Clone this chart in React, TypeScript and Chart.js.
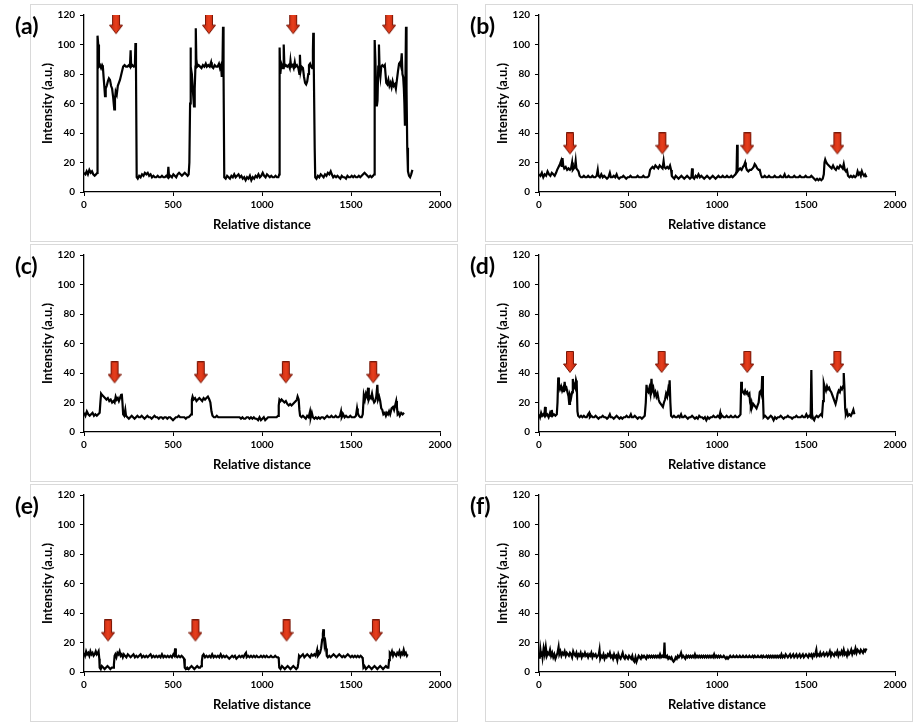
import React, { useEffect, useRef } from 'react';
import { Chart, registerables } from 'chart.js';
Chart.register(...registerables);

const X_MIN = 0, X_MAX = 2000, X_STEP = 500;
const Y_MIN = 0, Y_MAX = 120, Y_STEP = 20;
const xTitle = 'Relative distance';
const yTitle = 'Intensity (a.u.)';
const panelLabels = ['(a)', '(b)', '(c)', '(d)', '(e)', '(f)'];

const profileA: number[][] = [
[0,13],[8,12],[15,14],[22,12],[30,15],[38,13],[45,14],[52,12],[60,11],[68,12],[74,13],
[76,106],[80,100],[84,85],[90,86],[96,84],[102,86],[106,85],[110,78],[114,72],[118,65],[122,70],[128,72],[134,75],[140,77],[146,76],[152,72],[158,70],[164,64],[170,56],[174,63],[178,68],[184,66],[190,72],[196,74],[202,76],[208,79],[214,82],[220,85],[228,86],[236,85],[244,85],[252,86],[258,85],[262,96],[265,85],[272,86],[280,85],[286,86],[289,101],[292,85],[296,10],
[302,9],[310,11],[318,10],[326,12],[334,11],[342,13],[350,12],[358,13],[366,11],[374,12],[382,10],[390,11],[398,10],[406,10],[414,11],[422,10],[430,10],[438,11],[446,10],[454,10],[462,11],[470,10],[474,17],[478,10],[486,11],[494,10],[502,12],[510,11],[518,10],[526,12],[534,13],[542,12],[550,11],[558,12],[566,13],[574,12],[582,11],[588,12],
[592,20],[596,60],[598,98],[601,85],[606,80],[612,68],[618,58],[622,70],[626,85],[628,111],[631,90],[636,85],[644,86],[652,85],[660,84],[668,86],[676,85],[684,87],[690,85],[698,86],[706,85],[714,88],[718,85],[726,84],[734,86],[742,85],[750,85],[758,87],[764,84],[770,86],[774,78],[778,86],[781,112],[784,80],[788,10],
[796,9],[804,11],[812,10],[820,9],[828,11],[836,10],[844,12],[852,10],[860,11],[868,12],[876,10],[884,11],[892,9],[900,10],[908,8],[916,10],[924,9],[932,11],[940,8],[948,10],[956,9],[964,11],[972,10],[980,12],[988,10],[996,11],[1004,13],[1012,11],[1020,10],[1028,12],[1036,11],[1044,10],[1052,11],[1060,10],[1068,10],[1076,11],[1084,10],[1092,10],[1097,12],
[1099,98],[1103,80],[1107,85],[1112,86],[1118,84],[1122,100],[1126,85],[1134,86],[1142,85],[1150,86],[1156,84],[1160,89],[1164,85],[1172,86],[1178,84],[1184,88],[1188,85],[1196,86],[1204,84],[1210,80],[1213,93],[1217,82],[1222,85],[1230,84],[1236,78],[1242,74],[1248,73],[1254,75],[1260,80],[1264,86],[1270,87],[1276,85],[1282,84],[1286,96],[1288,108],[1291,85],[1296,30],[1299,10],
[1306,9],[1314,11],[1322,10],[1330,12],[1338,11],[1346,10],[1354,12],[1362,11],[1370,13],[1378,12],[1386,14],[1392,12],[1400,10],[1408,11],[1416,10],[1424,11],[1432,10],[1440,9],[1448,11],[1456,10],[1464,10],[1472,9],[1480,11],[1488,10],[1496,10],[1504,11],[1512,10],[1520,11],[1528,10],[1536,10],[1544,11],[1552,10],[1560,11],[1568,12],[1576,13],[1584,12],[1592,11],[1600,10],[1608,11],[1616,10],[1624,11],[1630,12],
[1633,103],[1637,90],[1641,70],[1645,58],[1649,62],[1653,85],[1657,100],[1661,82],[1665,78],[1670,85],[1676,86],[1684,85],[1690,86],[1694,80],[1698,74],[1704,73],[1710,76],[1716,72],[1722,74],[1728,71],[1734,75],[1740,72],[1746,73],[1752,70],[1758,76],[1764,82],[1770,87],[1776,88],[1780,86],[1785,94],[1789,80],[1793,78],[1797,70],[1800,60],[1803,45],[1806,80],[1809,112],[1812,70],[1816,30],[1820,14],[1826,11],[1832,10],[1838,12],[1845,15]
];

const profileB: number[][] = [
[0,12],[8,11],[16,13],[24,10],[32,12],[40,11],[48,14],[56,12],[64,11],[72,13],[80,12],[88,11],[96,13],[102,15],[110,17],[118,19],[124,21],[128,17],[132,23],[136,18],[142,16],[150,17],[158,15],[166,16],[174,15],[180,16],[186,20],[190,15],[196,16],[202,17],[206,21],[210,16],[216,15],[222,14],[228,11],[236,10],[244,10],[252,11],[260,10],[268,10],[276,11],[284,10],[292,10],[300,11],[308,10],[316,10],[324,11],[330,15],[334,11],[342,10],[350,12],[358,10],[366,11],[374,10],[382,9],[390,10],[398,13],[404,10],[412,10],[420,11],[428,10],[436,12],[442,10],[450,9],[458,10],[466,10],[474,11],[482,10],[490,9],[498,10],[506,10],[514,11],[522,10],[530,10],[538,10],[546,10],[554,11],[562,10],[570,10],[578,10],[586,11],[594,10],[602,10],[610,10],[618,11],[624,15],[630,16],[638,17],[646,16],[654,18],[662,17],[670,16],[678,18],[686,17],[694,16],[700,21],[704,17],[712,16],[720,17],[728,16],[736,18],[742,15],[746,11],[752,10],[760,9],[768,11],[776,10],[784,9],[792,10],[800,11],[808,10],[816,9],[824,10],[832,11],[840,10],[848,9],[856,10],[860,16],[864,10],[872,9],[880,11],[888,10],[896,12],[904,10],[912,11],[920,10],[928,9],[936,10],[944,11],[952,10],[960,9],[968,10],[976,11],[984,10],[992,9],[1000,10],[1008,11],[1016,10],[1024,10],[1032,11],[1040,10],[1048,10],[1056,11],[1064,10],[1072,10],[1080,11],[1088,10],[1096,11],[1104,12],[1110,14],[1113,32],[1116,14],[1122,15],[1130,16],[1138,15],[1146,17],[1152,18],[1158,20],[1162,17],[1168,15],[1176,14],[1184,15],[1192,15],[1200,16],[1206,17],[1212,19],[1218,18],[1226,16],[1234,15],[1240,15],[1246,12],[1252,10],[1260,10],[1268,11],[1276,10],[1284,10],[1292,11],[1300,10],[1308,10],[1316,10],[1324,11],[1332,10],[1340,10],[1348,10],[1356,11],[1364,10],[1372,10],[1380,12],[1386,10],[1394,10],[1402,11],[1410,10],[1418,10],[1426,10],[1434,11],[1442,10],[1450,10],[1458,10],[1466,11],[1474,10],[1482,10],[1490,10],[1498,11],[1506,10],[1514,10],[1522,10],[1530,11],[1538,10],[1546,9],[1554,8],[1562,9],[1570,8],[1578,9],[1586,8],[1594,9],[1600,12],[1604,20],[1608,22],[1614,20],[1620,19],[1628,18],[1636,17],[1644,16],[1652,18],[1660,16],[1668,15],[1676,17],[1684,16],[1692,18],[1700,17],[1706,16],[1712,19],[1718,15],[1724,14],[1730,15],[1736,11],[1744,10],[1752,11],[1760,10],[1768,11],[1776,10],[1784,11],[1790,14],[1796,12],[1802,13],[1808,11],[1814,14],[1820,12],[1826,11],[1832,12],[1840,10]
];

const profileC: number[][] = [
[0,13],[8,11],[16,14],[24,12],[32,11],[40,12],[48,13],[56,11],[64,12],[72,11],[80,12],[88,13],[92,20],[96,26],[102,25],[110,24],[118,23],[126,22],[134,23],[142,21],[150,22],[158,20],[166,21],[172,20],[178,24],[184,22],[190,23],[196,21],[202,23],[208,25],[212,26],[216,20],[220,12],[226,11],[232,15],[236,11],[244,10],[252,9],[260,10],[268,11],[276,10],[284,9],[292,10],[300,11],[308,10],[316,10],[324,11],[332,10],[340,9],[348,10],[356,11],[364,10],[372,10],[380,9],[388,10],[396,11],[404,10],[412,10],[420,9],[428,10],[436,10],[444,9],[452,10],[460,10],[468,9],[476,10],[484,10],[492,9],[500,8],[508,9],[516,10],[524,10],[532,11],[540,10],[548,10],[556,10],[564,10],[572,9],[580,10],[588,10],[596,11],[602,12],[606,22],[610,24],[616,22],[624,23],[632,21],[640,22],[648,23],[656,22],[664,21],[672,23],[680,22],[688,23],[696,24],[704,22],[710,20],[716,14],[722,11],[730,10],[738,10],[746,11],[754,10],[762,10],[770,10],[778,10],[786,10],[794,10],[802,10],[810,10],[818,10],[826,10],[834,10],[842,10],[850,10],[858,10],[866,10],[874,10],[882,9],[890,10],[898,9],[906,9],[914,10],[922,10],[930,9],[938,10],[946,9],[954,10],[962,9],[970,9],[978,8],[986,10],[994,8],[1002,9],[1010,10],[1018,8],[1026,9],[1034,10],[1042,10],[1050,10],[1058,10],[1066,10],[1074,10],[1082,10],[1090,11],[1094,18],[1098,22],[1104,21],[1110,22],[1118,21],[1126,20],[1134,21],[1142,19],[1150,18],[1158,19],[1166,18],[1174,19],[1182,20],[1190,21],[1196,22],[1200,24],[1206,22],[1210,15],[1214,11],[1222,10],[1230,11],[1238,10],[1246,9],[1254,11],[1262,10],[1270,14],[1274,10],[1280,13],[1286,10],[1294,9],[1302,10],[1310,9],[1318,10],[1326,9],[1334,10],[1342,10],[1350,9],[1358,10],[1366,11],[1374,10],[1382,10],[1390,11],[1398,10],[1406,10],[1414,11],[1422,10],[1430,10],[1438,11],[1444,14],[1448,10],[1456,12],[1464,10],[1472,11],[1480,10],[1488,10],[1496,11],[1504,10],[1512,10],[1520,10],[1528,11],[1534,16],[1538,13],[1544,11],[1552,10],[1560,10],[1566,12],[1572,25],[1578,22],[1584,26],[1590,24],[1596,30],[1600,22],[1606,24],[1612,23],[1618,26],[1624,22],[1630,20],[1636,21],[1642,24],[1648,32],[1652,22],[1658,24],[1664,21],[1670,16],[1676,15],[1682,12],[1690,13],[1696,11],[1702,13],[1708,12],[1714,14],[1720,12],[1728,16],[1736,17],[1742,15],[1748,18],[1754,21],[1758,17],[1762,12],[1768,13],[1774,11],[1782,13],[1790,12],[1798,13]
];

const profileD: number[][] = [
[0,12],[6,10],[12,13],[18,11],[24,12],[30,11],[34,17],[38,11],[46,12],[54,10],[62,13],[68,11],[72,15],[76,11],[84,12],[92,11],[100,12],[104,20],[108,37],[112,32],[118,29],[124,31],[130,28],[136,30],[140,27],[144,34],[148,29],[154,30],[160,27],[166,24],[170,19],[174,25],[180,23],[186,27],[190,36],[194,30],[198,32],[204,30],[208,35],[212,33],[216,14],[220,11],[228,10],[236,11],[244,10],[252,11],[260,10],[268,10],[276,12],[282,13],[286,10],[294,11],[302,10],[310,10],[318,11],[326,10],[334,9],[342,10],[350,10],[358,11],[366,10],[374,10],[382,9],[390,10],[398,12],[404,10],[412,10],[420,9],[428,10],[436,11],[444,10],[452,9],[460,10],[468,9],[476,10],[484,10],[492,11],[500,10],[508,10],[516,12],[522,10],[530,10],[538,11],[546,10],[554,9],[562,10],[570,10],[578,9],[586,10],[594,11],[600,20],[604,32],[608,28],[614,27],[620,30],[626,26],[632,36],[636,28],[642,30],[648,25],[654,27],[660,24],[666,26],[672,22],[678,20],[684,19],[690,18],[696,17],[702,20],[708,22],[714,26],[720,24],[726,29],[730,27],[734,35],[738,20],[742,11],[750,10],[758,11],[766,10],[774,10],[782,11],[790,10],[798,12],[804,10],[812,10],[820,11],[828,10],[836,9],[844,10],[852,10],[860,11],[868,10],[876,9],[884,10],[892,9],[900,11],[908,10],[916,10],[924,9],[932,10],[940,8],[948,10],[956,9],[964,10],[972,10],[980,11],[988,10],[996,10],[1004,11],[1012,10],[1018,13],[1022,10],[1030,11],[1038,10],[1046,10],[1054,11],[1062,10],[1070,10],[1078,11],[1086,10],[1094,10],[1102,11],[1110,10],[1118,10],[1126,11],[1132,12],[1136,34],[1140,29],[1146,27],[1152,26],[1158,28],[1164,26],[1170,27],[1176,25],[1182,26],[1186,20],[1190,18],[1194,20],[1198,17],[1204,19],[1210,18],[1216,17],[1222,16],[1228,18],[1234,20],[1240,27],[1246,28],[1250,26],[1254,38],[1258,25],[1262,10],[1270,11],[1278,10],[1286,9],[1294,10],[1302,11],[1310,10],[1318,8],[1326,10],[1334,9],[1342,10],[1350,10],[1358,11],[1366,10],[1374,9],[1382,10],[1390,10],[1398,11],[1406,10],[1414,10],[1422,9],[1430,10],[1438,10],[1446,11],[1454,10],[1462,10],[1470,10],[1478,11],[1486,10],[1494,10],[1502,12],[1510,10],[1518,11],[1526,10],[1530,42],[1534,12],[1540,9],[1546,8],[1552,10],[1560,11],[1568,10],[1576,11],[1584,12],[1590,11],[1596,21],[1600,33],[1606,30],[1612,28],[1618,31],[1624,29],[1630,30],[1636,28],[1642,27],[1648,25],[1654,23],[1660,21],[1666,19],[1672,22],[1678,26],[1684,28],[1690,27],[1696,30],[1702,29],[1708,31],[1712,40],[1716,30],[1720,16],[1724,12],[1730,14],[1736,11],[1744,12],[1752,11],[1760,13],[1766,15],[1772,12]
];

const profileE: number[][] = [
[0,13],[6,11],[12,14],[18,12],[24,13],[30,11],[36,14],[42,12],[48,13],[54,11],[60,12],[66,14],[72,12],[78,13],[82,14],[86,9],[88,3],[94,2],[100,4],[108,3],[116,2],[124,3],[132,4],[140,3],[148,2],[156,3],[164,3],[168,5],[172,11],[176,12],[182,10],[188,13],[194,12],[200,14],[206,11],[212,12],[218,10],[224,12],[230,11],[238,10],[246,12],[254,11],[262,10],[270,11],[278,12],[286,10],[294,11],[302,10],[310,11],[318,12],[326,10],[334,11],[342,10],[350,11],[358,10],[366,11],[374,12],[382,10],[390,11],[398,10],[406,11],[414,10],[422,11],[430,10],[438,12],[446,10],[454,11],[462,10],[470,11],[478,10],[486,11],[494,10],[502,12],[508,11],[512,16],[516,11],[524,10],[532,11],[540,10],[548,11],[556,10],[562,9],[566,3],[572,2],[580,3],[588,2],[596,3],[604,4],[612,3],[620,2],[628,3],[636,4],[644,3],[652,3],[658,4],[662,7],[666,11],[672,12],[680,10],[688,11],[696,10],[704,11],[712,10],[720,12],[728,10],[736,11],[744,10],[752,11],[760,10],[768,12],[776,10],[784,11],[792,10],[800,11],[808,10],[816,9],[824,10],[832,11],[840,10],[848,11],[856,9],[864,10],[872,11],[880,10],[888,11],[896,10],[904,12],[910,13],[914,10],[922,11],[930,10],[938,11],[946,10],[954,11],[962,10],[970,11],[978,10],[986,10],[994,11],[1002,10],[1010,11],[1018,10],[1026,11],[1034,10],[1042,10],[1050,11],[1058,10],[1066,10],[1074,11],[1082,10],[1090,10],[1094,9],[1097,3],[1104,2],[1112,4],[1120,3],[1128,2],[1136,3],[1144,4],[1152,3],[1160,2],[1168,3],[1176,4],[1184,3],[1192,2],[1200,3],[1204,6],[1208,11],[1214,10],[1222,11],[1230,12],[1238,10],[1246,11],[1254,12],[1262,11],[1270,10],[1278,12],[1286,11],[1294,12],[1300,11],[1306,13],[1310,15],[1314,11],[1320,12],[1326,13],[1332,16],[1338,22],[1342,26],[1345,29],[1348,24],[1352,18],[1356,20],[1360,16],[1364,11],[1370,10],[1378,11],[1386,10],[1394,11],[1402,12],[1410,11],[1418,10],[1426,11],[1434,12],[1442,11],[1450,10],[1458,11],[1466,10],[1474,11],[1482,12],[1490,11],[1498,10],[1506,11],[1514,10],[1522,11],[1530,10],[1538,11],[1546,10],[1554,11],[1562,10],[1566,9],[1570,3],[1576,4],[1584,2],[1592,3],[1600,4],[1608,3],[1616,2],[1624,3],[1632,4],[1640,3],[1648,2],[1656,3],[1664,4],[1672,3],[1680,2],[1688,3],[1696,4],[1704,3],[1710,3],[1714,8],[1718,13],[1724,12],[1730,14],[1736,11],[1742,13],[1748,12],[1754,11],[1760,13],[1766,12],[1772,14],[1778,11],[1784,13],[1790,12],[1796,15],[1802,12],[1808,13],[1814,11],[1818,12]
];

const profileF: number[][] = [
[0,13],[4,9],[8,15],[12,11],[16,14],[20,10],[26,16],[32,12],[38,17],[44,11],[50,13],[56,12],[62,15],[68,11],[74,13],[80,10],[86,12],[92,9],[98,11],[104,13],[110,17],[114,12],[120,14],[126,11],[132,13],[138,12],[144,14],[150,11],[156,13],[162,12],[168,11],[174,13],[180,12],[186,10],[192,14],[198,12],[204,11],[210,13],[216,10],[222,12],[228,11],[234,13],[240,10],[246,12],[252,11],[258,13],[264,11],[270,12],[276,10],[282,12],[288,11],[294,13],[300,10],[306,12],[312,11],[318,12],[324,10],[330,11],[336,12],[340,15],[344,9],[350,11],[356,10],[362,12],[368,9],[374,11],[380,10],[386,12],[392,11],[398,13],[404,10],[410,11],[416,9],[422,12],[428,10],[434,11],[440,8],[446,12],[452,10],[458,9],[464,11],[470,13],[476,10],[482,9],[488,11],[494,10],[500,9],[506,11],[512,10],[518,9],[524,11],[530,8],[536,7],[542,10],[548,7],[554,9],[560,11],[566,10],[572,9],[578,11],[584,10],[590,11],[596,10],[602,9],[608,11],[614,10],[620,11],[626,10],[632,11],[638,10],[644,11],[650,10],[656,11],[662,10],[668,11],[674,10],[680,12],[686,10],[692,11],[698,10],[702,12],[705,20],[708,11],[714,10],[720,11],[726,9],[732,10],[738,9],[744,10],[750,8],[756,7],[762,8],[768,10],[774,9],[780,11],[786,10],[792,11],[798,13],[804,10],[810,11],[816,10],[822,9],[828,11],[834,10],[840,11],[846,10],[852,11],[858,10],[864,11],[870,10],[876,12],[882,10],[888,11],[894,10],[900,11],[906,10],[912,11],[918,10],[924,11],[930,10],[936,11],[942,10],[948,11],[954,10],[960,11],[966,10],[972,11],[978,10],[984,12],[990,10],[996,11],[1002,10],[1008,11],[1014,10],[1020,11],[1026,10],[1032,10],[1038,11],[1044,10],[1050,9],[1056,10],[1062,9],[1068,10],[1074,11],[1080,10],[1086,10],[1092,11],[1098,10],[1104,10],[1110,11],[1116,10],[1122,10],[1128,11],[1134,10],[1140,10],[1146,11],[1152,10],[1158,10],[1164,11],[1170,10],[1176,10],[1182,11],[1188,10],[1194,10],[1200,11],[1206,10],[1212,11],[1218,10],[1224,10],[1230,11],[1236,10],[1242,10],[1248,11],[1254,10],[1260,11],[1266,10],[1272,10],[1278,11],[1284,10],[1290,11],[1296,10],[1302,11],[1308,10],[1314,11],[1320,10],[1326,11],[1332,10],[1338,11],[1344,10],[1350,11],[1356,10],[1362,12],[1368,10],[1374,11],[1380,10],[1386,12],[1392,11],[1398,10],[1404,11],[1410,12],[1416,10],[1422,11],[1428,12],[1434,10],[1440,11],[1446,12],[1452,10],[1458,11],[1464,12],[1470,10],[1476,11],[1482,12],[1488,10],[1494,11],[1500,12],[1506,11],[1512,10],[1518,12],[1524,11],[1530,12],[1536,10],[1542,12],[1548,11],[1554,13],[1558,15],[1562,11],[1568,12],[1574,11],[1580,13],[1586,11],[1592,12],[1598,13],[1604,11],[1610,12],[1616,13],[1622,11],[1628,12],[1634,14],[1640,11],[1646,13],[1652,12],[1658,11],[1664,13],[1670,12],[1676,14],[1682,11],[1688,13],[1694,12],[1700,14],[1706,12],[1712,15],[1718,12],[1724,13],[1730,11],[1736,14],[1742,12],[1748,13],[1754,15],[1760,12],[1766,14],[1772,13],[1778,16],[1784,13],[1790,15],[1796,14],[1802,13],[1808,15],[1814,14],[1820,13],[1826,15],[1832,14],[1840,16]
];

// Red arrow markers: x position and tip height
const arrowXA = [180, 702, 1175, 1714];
const arrowYA = [107, 107, 107, 107];
const arrowXB = [174, 693, 1170, 1676];
const arrowYB = [25.5, 25.5, 25.5, 25.5];
const arrowXC = [172, 656, 1134, 1625];
const arrowYC = [33, 33, 33, 33];
const arrowXD = [174, 689, 1170, 1676];
const arrowYD = [40, 40, 40, 40];
const arrowXE = [135, 626, 1138, 1640];
const arrowYE = [20.7, 20.7, 20.7, 20.7];
const arrowXF: number[] = [];
const arrowYF: number[] = [];

const profiles = [profileA, profileB, profileC, profileD, profileE, profileF];
const arrowXs = [arrowXA, arrowXB, arrowXC, arrowXD, arrowXE, arrowXF];
const arrowYs = [arrowYA, arrowYB, arrowYC, arrowYD, arrowYE, arrowYF];

const FONT = 'Lato, "Open Sans", sans-serif';
const PANEL_W = 428;
const PANEL_H = 238;
const panelPos = [
  [30, 4], [485, 4],
  [30, 244], [485, 244],
  [30, 484], [485, 484],
];

let arrowImg: HTMLCanvasElement | null = null;
function getArrow(): HTMLCanvasElement {
  if (arrowImg) return arrowImg;
  const w = 14, h = 22;
  const c = document.createElement('canvas');
  c.width = w;
  c.height = h * 2;
  const ctx = c.getContext('2d')!;
  const g = ctx.createLinearGradient(0, 0, w, 0);
  g.addColorStop(0, '#b8200c');
  g.addColorStop(0.5, '#e8401e');
  g.addColorStop(1, '#b01c08');
  ctx.beginPath();
  ctx.moveTo(3.5, 0.5);
  ctx.lineTo(10.5, 0.5);
  ctx.lineTo(10.5, 13);
  ctx.lineTo(13.5, 13);
  ctx.lineTo(7, 21.5);
  ctx.lineTo(0.5, 13);
  ctx.lineTo(3.5, 13);
  ctx.closePath();
  ctx.fillStyle = g;
  ctx.fill();
  ctx.strokeStyle = '#7a1808';
  ctx.lineWidth = 1;
  ctx.stroke();
  arrowImg = c;
  return c;
}

function Panel({ idx }: { idx: number }) {
  const ref = useRef<HTMLCanvasElement>(null);
  useEffect(() => {
    if (!ref.current) return;
    const prof = profiles[idx];
    const ax = arrowXs[idx];
    const ay = arrowYs[idx];
    const tickFont = { family: FONT, size: 10, weight: 'bold' as const };
    const titleFont = { family: FONT, size: 13, weight: 'bold' as const };
    const plain = (v: any) => String(v);
    const chart = new Chart(ref.current, {
      type: 'line',
      data: {
        datasets: [
          {
            data: ax.map((x, i) => ({ x, y: ay[i] })),
            showLine: false,
            pointStyle: getArrow(),
            pointRadius: 5,
            borderColor: 'rgba(0,0,0,0)',
            backgroundColor: 'rgba(0,0,0,0)',
            order: 0,
          } as any,
          {
            data: prof.map((p) => ({ x: p[0], y: p[1] })),
            borderColor: '#000',
            borderWidth: 2.2,
            pointRadius: 0,
            tension: 0,
            fill: false,
            order: 1,
          },
        ],
      },
      options: {
        animation: false,
        responsive: false,
        maintainAspectRatio: false,
        layout: { padding: { top: 10, right: 18, left: 0, bottom: 0 } },
        plugins: { legend: { display: false }, tooltip: { enabled: false } },
        scales: {
          x: {
            type: 'linear',
            min: X_MIN,
            max: X_MAX,
            ticks: { stepSize: X_STEP, color: '#000', font: tickFont, padding: 3, maxRotation: 0, callback: plain },
            grid: { drawOnChartArea: false, drawTicks: true, tickLength: 4, color: '#000', lineWidth: 1 },
            border: { color: '#000', width: 1.3 },
            title: { display: true, text: xTitle, color: '#000', font: titleFont, padding: { top: 0, bottom: 9 } },
            afterFit: (s: any) => { s.height = 50; },
          },
          y: {
            type: 'linear',
            min: Y_MIN,
            max: Y_MAX,
            ticks: { stepSize: Y_STEP, color: '#000', font: tickFont, padding: 5, callback: plain },
            grid: { drawOnChartArea: false, drawTicks: true, tickLength: 4, color: '#000', lineWidth: 1 },
            border: { color: '#000', width: 1.3 },
            title: { display: true, text: yTitle, color: '#000', font: titleFont, padding: { top: 10, bottom: 0 } },
            afterFit: (s: any) => { s.width = 54; },
          },
        },
      },
    });
    return () => chart.destroy();
  }, [idx]);
  const [left, top] = panelPos[idx];
  return (
    <>
      <div
        style={{
          position: 'absolute',
          left,
          top,
          width: PANEL_W,
          height: PANEL_H,
          boxSizing: 'border-box',
          border: '1px solid #d9d9d9',
        }}
      />
      <canvas
        ref={ref}
        width={PANEL_W}
        height={PANEL_H}
        style={{ position: 'absolute', left, top, width: PANEL_W, height: PANEL_H }}
      />
      <div
        style={{
          position: 'absolute',
          left: left - 15,
          top: top + 8,
          fontFamily: FONT,
          fontWeight: 'bold',
          fontSize: 23,
          lineHeight: '26px',
          color: '#000',
        }}
      >
        {panelLabels[idx]}
      </div>
    </>
  );
}

export default function App() {
  return (
    <div
      style={{
        position: 'fixed',
        left: 0,
        top: 0,
        width: 914,
        height: 723,
        background: '#fff',
        overflow: 'hidden',
      }}
    >
      {[0, 1, 2, 3, 4, 5].map((i) => (
        <Panel key={i} idx={i} />
      ))}
    </div>
  );
}
